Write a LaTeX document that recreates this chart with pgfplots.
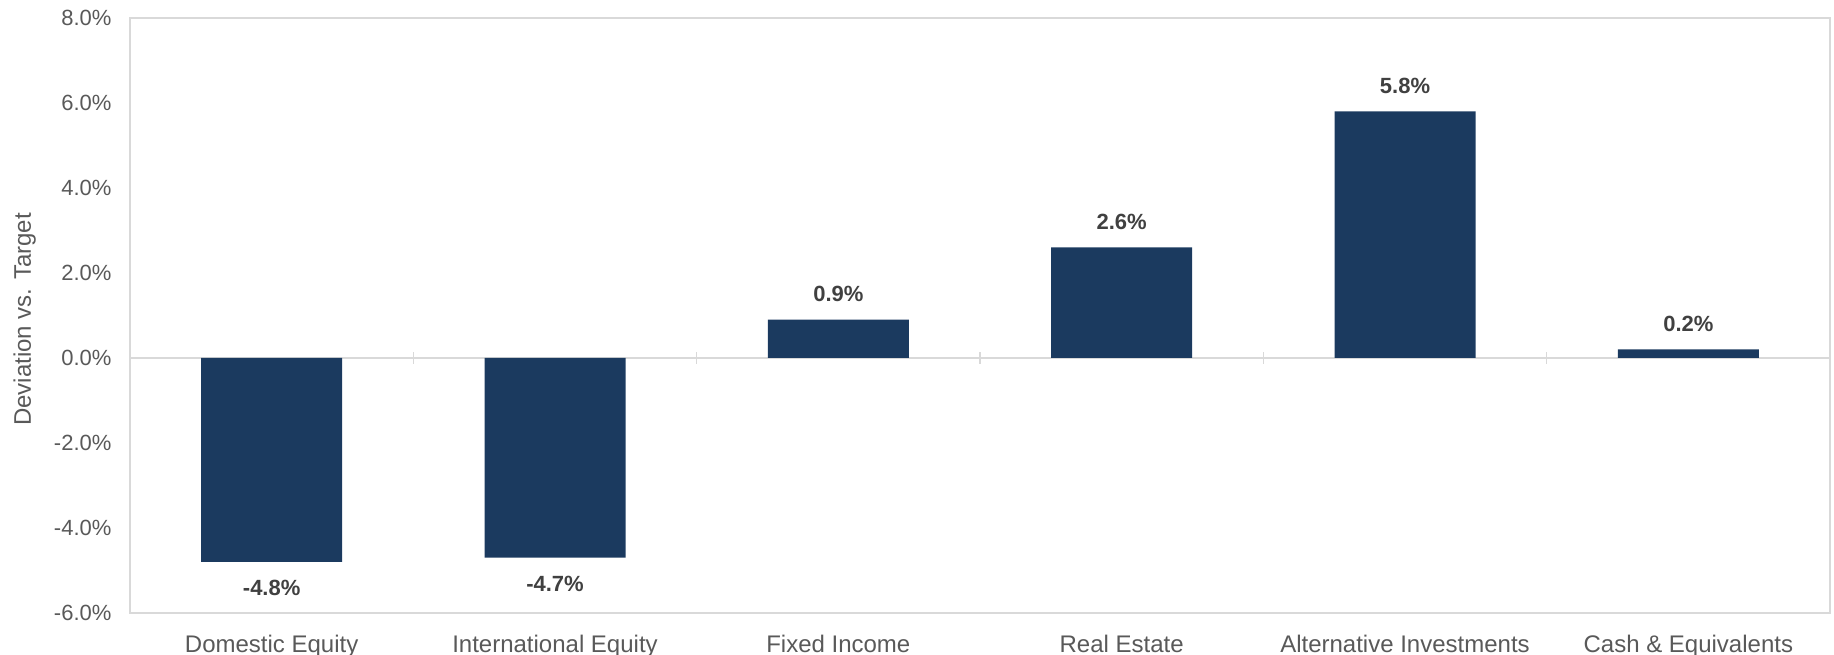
\documentclass[border=0pt]{standalone}
\usepackage{pgfplots}
\pgfplotsset{compat=1.18}
\usepackage{fontspec}
\setmainfont{Liberation Sans}
\definecolor{barc}{HTML}{1B3A5F}
\definecolor{tickc}{HTML}{595959}
\definecolor{labc}{HTML}{404040}
\definecolor{framec}{HTML}{D9D9D9}
\begin{document}
\begin{tikzpicture}
\begin{axis}[
  name=ax,
  width=850pt, height=297.5pt,
  scale only axis,
  xmin=-0.5, xmax=5.5,
  ymin=-6, ymax=8,
  ytick={-6,-4,...,8},
  xtick={0,1,2,3,4,5},
  xticklabels={Domestic Equity, International Equity, Fixed Income, Real Estate, Alternative Investments, Cash \& Equivalents},
  major tick length=0pt,
  axis line style={framec, line width=0.8pt},
  /pgf/number format/assume math mode=true,
  yticklabel={\pgfmathprintnumber[fixed,fixed zerofill,precision=1]{\tick}\%},
  yticklabel style={font=\fontsize{11}{13}\selectfont, text=tickc, xshift=-5.75pt},
  xticklabel style={font=\fontsize{12}{14}\selectfont, text=tickc, yshift=-7.3pt},
  ylabel={Deviation vs. Target},
  every axis y label/.style={at={(rel axis cs:0,0.5)}, xshift=-52.7pt, yshift=-2pt, rotate=90, anchor=center, font=\fontsize{12}{14}\selectfont, text=tickc},
  ybar, bar width=70.5pt,
  nodes near coords={\pgfmathprintnumber[fixed,fixed zerofill,precision=1]{\pgfplotspointmeta}\%},
  nodes near coords style={font=\bfseries\fontsize{11}{13}\selectfont, text=labc, inner sep=0pt, text height=8pt, text depth=0pt, outer sep=9pt},
  clip=false,
]
\draw[framec, line width=0.8pt] (axis cs:-0.5,0) -- (axis cs:5.5,0);
\pgfplotsinvokeforeach{0.5,1.5,2.5,3.5,4.5}{
  \draw[framec, line width=0.8pt] ([yshift=-3pt]axis cs:#1,0) -- ([yshift=3pt]axis cs:#1,0);
}
\addplot[fill=barc, draw=none] coordinates {(0,-4.8) (1,-4.7) (2,0.9) (3,2.6) (4,5.8) (5,0.2)};
\end{axis}
\pgfresetboundingbox
\path[use as bounding box] ([xshift=-65pt,yshift=-21pt]ax.south west) rectangle ([xshift=2pt,yshift=9pt]ax.north east);
\end{tikzpicture}
\end{document}
